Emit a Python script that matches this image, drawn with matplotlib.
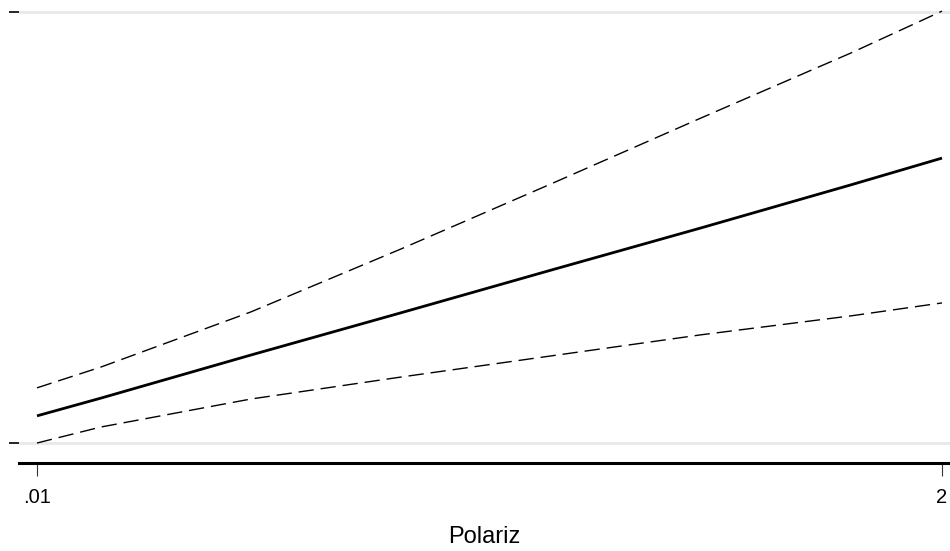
import matplotlib
matplotlib.use("Agg")
import matplotlib.pyplot as plt

plt.rcParams['font.family'] = ['Liberation Sans', 'DejaVu Sans']

# predicted effect with upper / lower confidence bounds over Polariz
polariz = [0.01, 0.15, 0.48, 0.81, 1.14, 1.47, 1.80, 2.0]
effect = [0.063, 0.104, 0.204, 0.302, 0.401, 0.499, 0.599, 0.661]
upper = [0.128, 0.176, 0.304, 0.450, 0.601, 0.754, 0.905, 1.002]
lower = [0.000, 0.037, 0.102, 0.153, 0.202, 0.251, 0.295, 0.325]

xticks = [0.01, 2]
xtick_labels = ['.01', '2']
yticks = [0, 1]

fig = plt.figure(figsize=(9.5, 5.51), dpi=100)
ax = fig.add_axes([0.02, 0.1597, 0.98, 0.8403])

ax.plot(polariz, upper, color='black', lw=1.0, dashes=(11, 5))
ax.plot(polariz, lower, color='black', lw=1.0, dashes=(11, 5))
ax.plot(polariz, effect, color='black', lw=2.0, solid_capstyle='butt')

ax.set_xlim(-0.0296, 2.0176)
ax.set_ylim(-0.0464, 1.0278)

ax.set_xticks(xticks)
ax.set_xticklabels(xtick_labels, fontsize=14.5)
ax.set_yticks(yticks)
ax.set_yticklabels([])
ax.tick_params(axis='x', length=9, width=0.8, color='#333333', pad=9)
ax.tick_params(axis='y', length=7, width=1.2, color='black')

for y in yticks:
    ax.axhline(y, color='#e8e8e8', lw=2.0, zorder=0)

for side in ['top', 'right', 'left']:
    ax.spines[side].set_visible(False)
ax.spines['bottom'].set_linewidth(2.2)

ax.set_xlabel('Polariz', fontsize=17, labelpad=13.5)

fig.savefig('out.png', dpi=100)
